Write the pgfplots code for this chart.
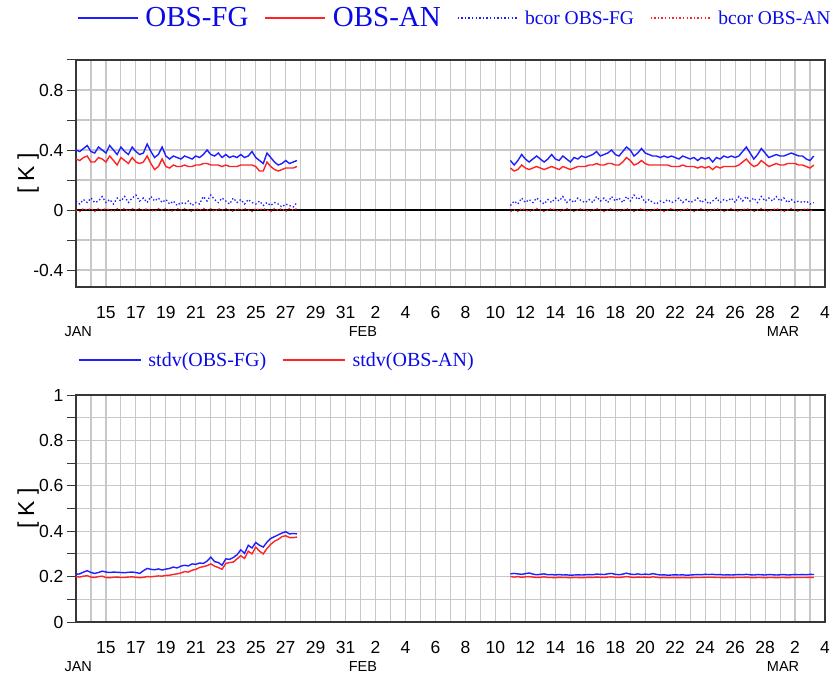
\documentclass[border=0pt]{standalone}
\usepackage{fontspec}
\setmainfont{Liberation Serif}
\newfontfamily\tsans{Liberation Sans}
\usepackage{pgfplots}
\usepackage{pgfplotstable}
\pgfplotsset{compat=1.18}
\definecolor{lblue}{RGB}{30,30,255}
\definecolor{lred}{RGB}{255,35,35}
\definecolor{tblue}{RGB}{10,10,230}
\definecolor{gridc}{RGB}{200,200,200}
\definecolor{framec}{RGB}{55,55,55}

\pgfplotstableread{
x fg an bfg ban
0.00 0.40 0.34 0.06 0.00
0.25 0.39 0.33 0.04 -0.01
0.50 0.41 0.35 0.07 0.01
0.75 0.43 0.36 0.05 0.00
1.00 0.39 0.32 0.08 0.01
1.25 0.38 0.32 0.05 -0.01
1.50 0.42 0.35 0.06 0.01
1.75 0.40 0.34 0.09 0.00
2.00 0.38 0.32 0.05 0.01
2.25 0.43 0.36 0.07 0.00
2.50 0.40 0.33 0.04 -0.01
2.75 0.37 0.30 0.08 0.01
3.00 0.42 0.35 0.06 0.00
3.25 0.39 0.33 0.09 0.01
3.50 0.37 0.31 0.05 -0.01
3.75 0.42 0.35 0.08 0.01
4.00 0.39 0.32 0.10 0.00
4.25 0.37 0.31 0.06 0.01
4.50 0.38 0.32 0.08 0.00
4.75 0.44 0.36 0.05 0.01
5.00 0.39 0.31 0.09 0.00
5.25 0.35 0.27 0.06 -0.01
5.50 0.37 0.29 0.08 0.01
5.75 0.42 0.34 0.05 0.00
6.00 0.36 0.29 0.07 0.01
6.25 0.34 0.28 0.04 0.00
6.50 0.36 0.30 0.06 -0.01
6.75 0.35 0.29 0.03 0.01
7.00 0.34 0.29 0.05 0.00
7.25 0.36 0.30 0.04 0.01
7.50 0.35 0.29 0.06 0.00
7.75 0.34 0.29 0.03 -0.01
8.00 0.36 0.30 0.05 0.01
8.25 0.35 0.30 0.04 0.00
8.50 0.37 0.31 0.09 0.01
8.75 0.40 0.31 0.06 0.00
9.00 0.37 0.30 0.10 0.01
9.25 0.36 0.30 0.07 -0.01
9.50 0.38 0.30 0.05 0.01
9.75 0.35 0.29 0.08 0.00
10.00 0.37 0.30 0.06 0.01
10.25 0.35 0.29 0.04 0.00
10.50 0.36 0.29 0.08 -0.01
10.75 0.35 0.29 0.05 0.01
11.00 0.37 0.30 0.07 0.00
11.25 0.35 0.30 0.04 0.01
11.50 0.36 0.30 0.07 0.00
11.75 0.39 0.30 0.05 -0.01
12.00 0.35 0.29 0.04 0.01
12.25 0.33 0.26 0.06 0.00
12.50 0.31 0.26 0.03 0.01
12.75 0.38 0.32 0.05 0.00
13.00 0.35 0.29 0.03 -0.01
13.25 0.32 0.27 0.05 0.01
13.50 0.30 0.26 0.04 0.00
13.75 0.31 0.27 0.02 0.01
14.00 0.33 0.28 0.04 -0.01
14.25 0.31 0.28 0.03 0.01
14.50 0.32 0.28 0.02 0.00
14.75 0.33 0.29 0.05 0.01
22.00 nan nan nan nan
29.00 0.33 0.28 0.03 -0.01
29.25 0.30 0.26 0.06 0.00
29.50 0.33 0.27 0.04 -0.01
29.75 0.37 0.30 0.08 0.01
30.00 0.34 0.28 0.05 0.00
30.25 0.32 0.27 0.07 -0.01
30.50 0.34 0.28 0.05 0.00
30.75 0.36 0.29 0.08 0.01
31.00 0.34 0.28 0.06 0.00
31.25 0.32 0.27 0.04 -0.01
31.50 0.34 0.28 0.07 0.00
31.75 0.37 0.29 0.05 0.01
32.00 0.34 0.28 0.08 0.00
32.25 0.33 0.27 0.06 -0.01
32.50 0.36 0.29 0.09 0.00
32.75 0.34 0.28 0.05 0.01
33.00 0.32 0.27 0.07 0.00
33.25 0.35 0.28 0.05 -0.01
33.50 0.34 0.29 0.08 0.00
33.75 0.36 0.29 0.06 0.01
34.00 0.35 0.29 0.05 0.00
34.25 0.36 0.30 0.07 -0.01
34.50 0.37 0.30 0.05 0.00
34.75 0.39 0.31 0.09 0.01
35.00 0.36 0.30 0.06 0.00
35.25 0.37 0.30 0.08 -0.01
35.50 0.38 0.31 0.05 0.00
35.75 0.40 0.31 0.09 0.01
36.00 0.37 0.30 0.06 0.00
36.25 0.36 0.30 0.08 -0.01
36.50 0.39 0.32 0.05 0.00
36.75 0.42 0.35 0.09 0.01
37.00 0.40 0.33 0.06 0.00
37.25 0.36 0.30 0.10 -0.01
37.50 0.38 0.31 0.07 0.00
37.75 0.41 0.33 0.09 0.01
38.00 0.38 0.31 0.05 0.00
38.25 0.37 0.30 0.07 -0.01
38.50 0.36 0.30 0.05 0.00
38.75 0.36 0.30 0.04 0.01
39.00 0.35 0.30 0.06 0.00
39.25 0.36 0.30 0.05 -0.01
39.50 0.35 0.30 0.07 0.00
39.75 0.36 0.29 0.05 0.01
40.00 0.35 0.29 0.06 0.00
40.25 0.34 0.29 0.08 -0.01
40.50 0.36 0.30 0.05 0.00
40.75 0.35 0.29 0.07 0.01
41.00 0.34 0.29 0.05 0.00
41.25 0.35 0.29 0.06 -0.01
41.50 0.33 0.28 0.08 0.00
41.75 0.35 0.29 0.05 0.01
42.00 0.34 0.28 0.07 0.00
42.25 0.35 0.29 0.04 -0.01
42.50 0.32 0.27 0.06 0.00
42.75 0.35 0.29 0.08 0.01
43.00 0.34 0.28 0.05 0.00
43.25 0.36 0.29 0.07 -0.01
43.50 0.35 0.29 0.06 0.00
43.75 0.36 0.29 0.08 0.01
44.00 0.35 0.29 0.05 0.00
44.25 0.36 0.30 0.09 -0.01
44.50 0.39 0.32 0.06 0.00
44.75 0.42 0.34 0.09 0.01
45.00 0.38 0.31 0.06 0.00
45.25 0.34 0.29 0.08 -0.01
45.50 0.37 0.30 0.05 0.00
45.75 0.41 0.33 0.09 0.01
46.00 0.38 0.31 0.06 0.00
46.25 0.35 0.29 0.08 -0.01
46.50 0.36 0.30 0.06 0.00
46.75 0.37 0.31 0.09 0.01
47.00 0.36 0.30 0.06 0.00
47.25 0.36 0.30 0.08 -0.01
47.50 0.37 0.31 0.05 0.00
47.75 0.38 0.31 0.07 0.01
48.00 0.37 0.31 0.05 0.00
48.25 0.36 0.30 0.06 -0.01
48.50 0.36 0.30 0.05 0.00
48.75 0.34 0.29 0.06 0.01
49.00 0.33 0.28 0.04 0.00
49.25 0.36 0.30 0.05 -0.01
}\topdata

\pgfplotstableread{
x sfg san
0.00 0.210 0.200
0.25 0.212 0.198
0.50 0.220 0.202
0.75 0.226 0.204
1.00 0.218 0.198
1.25 0.214 0.196
1.50 0.218 0.200
1.75 0.224 0.202
2.00 0.220 0.196
2.25 0.218 0.195
2.50 0.220 0.197
2.75 0.219 0.198
3.00 0.218 0.196
3.25 0.217 0.196
3.50 0.219 0.198
3.75 0.220 0.199
4.00 0.218 0.197
4.25 0.214 0.195
4.50 0.226 0.197
4.75 0.236 0.200
5.00 0.232 0.199
5.25 0.230 0.201
5.50 0.234 0.203
5.75 0.229 0.202
6.00 0.233 0.205
6.25 0.236 0.206
6.50 0.242 0.210
6.75 0.238 0.212
7.00 0.246 0.216
7.25 0.250 0.222
7.50 0.247 0.220
7.75 0.256 0.228
8.00 0.254 0.232
8.25 0.260 0.240
8.50 0.258 0.244
8.75 0.268 0.248
9.00 0.286 0.256
9.25 0.266 0.246
9.50 0.262 0.240
9.75 0.250 0.232
10.00 0.278 0.258
10.25 0.276 0.262
10.50 0.284 0.264
10.75 0.296 0.278
11.00 0.318 0.292
11.25 0.302 0.280
11.50 0.338 0.312
11.75 0.326 0.300
12.00 0.350 0.330
12.25 0.338 0.312
12.50 0.330 0.300
12.75 0.352 0.324
13.00 0.368 0.342
13.25 0.376 0.356
13.50 0.384 0.364
13.75 0.392 0.376
14.00 0.398 0.380
14.25 0.388 0.372
14.50 0.390 0.372
14.75 0.388 0.374
22.00 nan nan
29.00 0.212 0.200
29.25 0.214 0.198
29.50 0.212 0.200
29.75 0.210 0.197
30.00 0.213 0.199
30.25 0.216 0.200
30.50 0.211 0.198
30.75 0.208 0.196
31.00 0.210 0.197
31.25 0.212 0.199
31.50 0.208 0.196
31.75 0.209 0.196
32.00 0.207 0.195
32.25 0.209 0.197
32.50 0.207 0.196
32.75 0.208 0.196
33.00 0.206 0.195
33.25 0.207 0.196
33.50 0.208 0.196
33.75 0.207 0.195
34.00 0.208 0.196
34.25 0.209 0.197
34.50 0.208 0.196
34.75 0.211 0.198
35.00 0.210 0.197
35.25 0.209 0.196
35.50 0.212 0.198
35.75 0.214 0.199
36.00 0.210 0.197
36.25 0.208 0.196
36.50 0.211 0.198
36.75 0.215 0.200
37.00 0.211 0.198
37.25 0.209 0.196
37.50 0.212 0.198
37.75 0.209 0.197
38.00 0.211 0.198
38.25 0.209 0.196
38.50 0.213 0.199
38.75 0.210 0.197
39.00 0.207 0.195
39.25 0.208 0.196
39.50 0.206 0.195
39.75 0.207 0.195
40.00 0.208 0.196
40.25 0.207 0.195
40.50 0.208 0.196
40.75 0.206 0.195
41.00 0.207 0.195
41.25 0.208 0.196
41.50 0.209 0.196
41.75 0.208 0.196
42.00 0.210 0.197
42.25 0.209 0.197
42.50 0.210 0.197
42.75 0.208 0.196
43.00 0.209 0.196
43.25 0.207 0.195
43.50 0.208 0.196
43.75 0.207 0.195
44.00 0.208 0.196
44.25 0.209 0.196
44.50 0.208 0.196
44.75 0.210 0.197
45.00 0.208 0.196
45.25 0.207 0.195
45.50 0.209 0.196
45.75 0.208 0.196
46.00 0.207 0.195
46.25 0.209 0.196
46.50 0.208 0.196
46.75 0.207 0.195
47.00 0.208 0.196
47.25 0.209 0.196
47.50 0.207 0.195
47.75 0.208 0.196
48.00 0.209 0.196
48.25 0.208 0.196
48.50 0.209 0.196
48.75 0.208 0.196
49.00 0.210 0.197
49.25 0.209 0.196
}\botdata

\pgfplotsset{
  mybase/.style={
    scale only axis, width=749pt, height=227pt, anchor=south west,
    xmin=0, xmax=50,
    xtick={2,4,...,50},
    xticklabels={15,17,19,21,23,25,27,29,31,2,4,6,8,10,12,14,16,18,20,22,24,26,28,2,4},
    minor xtick={1,3,...,49},
    grid=both,
    major grid style={gridc, line width=1.1pt},
    minor grid style={gridc, line width=1.1pt},
    every major x tick/.append style={draw=none},
    every minor x tick/.append style={draw=none},
    tick pos=left,
    tick align=outside,
    major tick length=9pt,
    minor tick length=9pt,
    tick style={framec, line width=1pt},
    axis line style={framec, line width=1.5pt},
    tick label style={font=\tsans\fontsize{17.5}{17.5}\selectfont},
    xticklabel style={yshift=-7pt},
    extra x ticks={0.15,19.15,47.2},
    extra x tick labels={JAN,FEB,MAR},
    extra x tick style={grid=none, major grid style={draw=none}, xticklabel style={yshift=-20pt, font=\tsans\fontsize{14.5}{14.5}\selectfont}},
    ylabel={\relax[ K ]},
    every axis y label/.style={at={(axis description cs:-0.064,0.5)}, rotate=90, anchor=center, font=\tsans\fontsize{23}{23}\selectfont},
    unbounded coords=jump,
    legend cell align=left,
    legend style={draw=none, fill=none, inner sep=0pt, outer sep=0pt,
      nodes={inner sep=0pt, text=tblue},
      /tikz/every odd column/.append style={column sep=7pt},
      /tikz/every even column/.append style={column sep=16pt}},
  }
}

\begin{document}
\begin{tikzpicture}
\path[use as bounding box] (0pt,0pt) rectangle (835pt,678pt);

\begin{axis}[mybase, at={(76pt,391pt)},
  ymin=-0.513, ymax=1.0,
  ytick={-0.4,0,0.4,0.8}, yticklabels={-0.4,0,0.4,0.8},
  minor ytick={-0.2,0.2,0.6,1.0},
  legend columns=4,
  legend style={at={(axis description cs:0.0013,1.185)}, anchor=west},
  legend image code/.code={\draw[#1] (0pt,0pt) -- (60pt,0pt);},
]
\addplot[black, line width=1.2pt, forget plot] coordinates {(0,0) (50,0)};
\addplot[lblue, line width=1.4pt] table[x=x,y=fg]{\topdata};
\addlegendentry{\fontsize{29}{29}\selectfont OBS-FG}
\addplot[lred, line width=1.4pt] table[x=x,y=an]{\topdata};
\addlegendentry{\fontsize{29}{29}\selectfont OBS-AN}
\addplot[lblue, line width=1.3pt, dash pattern=on 1.4pt off 2.2pt] table[x=x,y=bfg]{\topdata};
\addlegendentry{\fontsize{19.5}{19.5}\selectfont bcor OBS-FG}
\addplot[lred, line width=1.3pt, dash pattern=on 1.4pt off 2.2pt] table[x=x,y=ban]{\topdata};
\addlegendentry{\fontsize{19.5}{19.5}\selectfont bcor OBS-AN}
\end{axis}

\begin{axis}[mybase, at={(76pt,56pt)},
  ymin=0, ymax=1,
  ytick={0,0.2,0.4,0.6,0.8,1}, yticklabels={0,0.2,0.4,0.6,0.8,1},
  minor ytick={0.1,0.3,0.5,0.7,0.9},
  legend columns=2,
  legend style={at={(axis description cs:0.0027,1.154)}, anchor=west},
  legend image code/.code={\draw[#1] (0pt,0pt) -- (62pt,0pt);},
]
\addplot[lblue, line width=1.4pt] table[x=x,y=sfg]{\botdata};
\addlegendentry{\fontsize{20}{20}\selectfont stdv(OBS-FG)}
\addplot[lred, line width=1.4pt] table[x=x,y=san]{\botdata};
\addlegendentry{\fontsize{20}{20}\selectfont stdv(OBS-AN)}
\end{axis}
\end{tikzpicture}
\end{document}
